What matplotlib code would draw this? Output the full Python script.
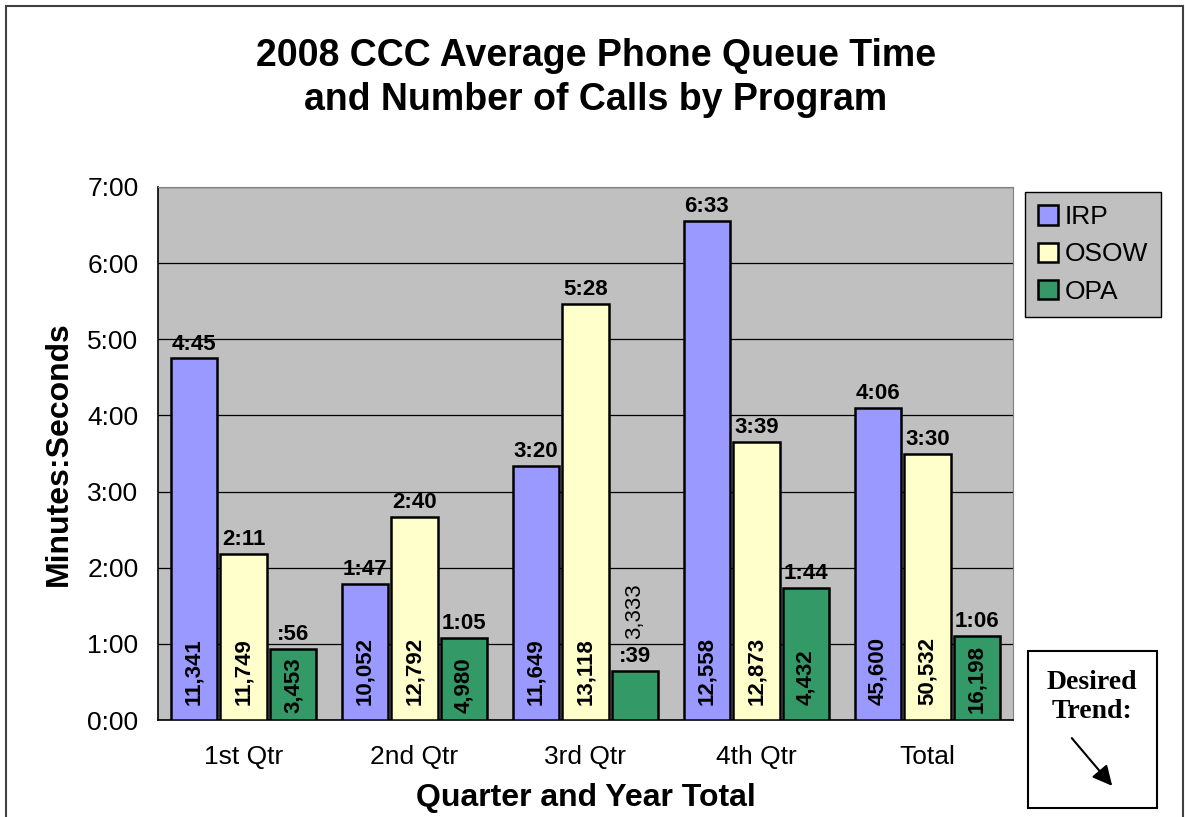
import matplotlib
matplotlib.use('Agg')
import matplotlib.pyplot as plt
import numpy as np
from matplotlib.patches import Rectangle, FancyArrowPatch

plt.rcParams['font.family'] = ['Liberation Sans', 'DejaVu Sans']

##### data #####
quarters = ['1st Qtr', '2nd Qtr', '3rd Qtr', '4th Qtr', 'Total']
programs = ['IRP', 'OSOW', 'OPA']
# average queue time in seconds
irp_sec = [285, 107, 200, 393, 246]
osow_sec = [131, 160, 328, 219, 210]
opa_sec = [56, 65, 39, 104, 66]
# number of calls
irp_calls = [11341, 10052, 11649, 12558, 45600]
osow_calls = [11749, 12792, 13118, 12873, 50532]
opa_calls = [3453, 4980, 3333, 4432, 16198]
y_ticks = [0, 1, 2, 3, 4, 5, 6, 7]

colors = ['#9999FF', '#FFFFCC', '#339966']
series_sec = [irp_sec, osow_sec, opa_sec]
series_calls = [irp_calls, osow_calls, opa_calls]


def mmss(s):
    m, sec = divmod(s, 60)
    if m == 0:
        return ':%02d' % sec
    return '%d:%02d' % (m, sec)


fig = plt.figure(figsize=(11.85, 8.17), dpi=100)
fig.patches.append(Rectangle((6/1185, -0.1), 1177/1185, 1.1 - 6/817, transform=fig.transFigure,
                             fill=False, ec='#404040', lw=1.5, zorder=0))

ax = fig.add_axes([158/1185, 97/817, 855/1185, 533/817])
ax.set_facecolor('#C0C0C0')

x = np.arange(len(quarters))
width = 0.27
step = 0.29
for i, (sec, calls) in enumerate(zip(series_sec, series_calls)):
    mins = np.array(sec)/60.0
    xs = x + (i-1)*step
    ax.bar(xs, mins, width, color=colors[i], edgecolor='black', lw=1.8, label=programs[i], zorder=3)
    for xi, h, s, c in zip(xs, mins, sec, calls):
        ax.text(xi, h+0.05, mmss(s), ha='center', va='bottom', fontsize=16, fontweight='bold', zorder=4)
        lab = format(c, ',')
        if h < 0.8:
            ax.text(xi, h+0.42, lab, ha='center', va='bottom', rotation=90, fontsize=16, zorder=4)
        else:
            off = 0.2 if h > 1.2 else 0.09
            ax.text(xi, off, lab, ha='center', va='bottom', rotation=90, fontsize=16,
                    fontweight='bold', zorder=4)

ax.set_xlim(-0.5, 4.5)
ax.set_ylim(0, 7)
ax.set_yticks(y_ticks)
ax.set_yticklabels(['%d:00' % t for t in y_ticks])
ax.set_xticks(x)
ax.set_xticklabels(quarters)
ax.tick_params(axis='both', length=0, labelsize=19)
ax.tick_params(axis='y', pad=14)
ax.tick_params(axis='x', pad=18)
ax.grid(axis='y', color='black', lw=0.9, zorder=1)
ax.set_axisbelow(True)
for s in ['top', 'right']:
    ax.spines[s].set_color('#808080')
for s in ['left', 'bottom']:
    ax.spines[s].set_color('black')
    ax.spines[s].set_linewidth(1.2)

ax.set_ylabel('Minutes:Seconds', fontsize=23, fontweight='bold', labelpad=10)
ax.set_xlabel('Quarter and Year Total', fontsize=23, fontweight='bold', labelpad=10)

fig.text(596/1185, 1-78/817, '2008 CCC Average Phone Queue Time\nand Number of Calls by Program',
         ha='center', va='center', fontsize=27, fontweight='bold', linespacing=1.25)

leg = ax.legend(loc='upper left', bbox_to_anchor=(1025/1185, 1-192/817), bbox_transform=fig.transFigure,
                fontsize=19, frameon=True, fancybox=False, edgecolor='black', facecolor='#C0C0C0',
                handlelength=0.75, handleheight=0.75, handletextpad=0.25, labelspacing=0.5,
                borderpad=0.5, borderaxespad=0)
leg.get_frame().set_linewidth(1.0)
leg.get_frame().set_alpha(1)

# desired trend box
fig.patches.append(Rectangle((1028/1185, 1-808/817), 129/1185, 157/817, transform=fig.transFigure,
                             fill=True, fc='white', ec='black', lw=1.5))
fig.text(1092/1185, 1-697/817, 'Desired\nTrend:', ha='center', va='center', fontsize=20,
         fontweight='bold', family='Liberation Serif', linespacing=1.2)
fig.patches.append(FancyArrowPatch((1070/1185, 1-736/817), (1114/1185, 1-788/817),
                                   transform=fig.transFigure, arrowstyle='-|>', mutation_scale=30,
                                   color='black', lw=1.5))

fig.savefig('out.png', dpi=100)
